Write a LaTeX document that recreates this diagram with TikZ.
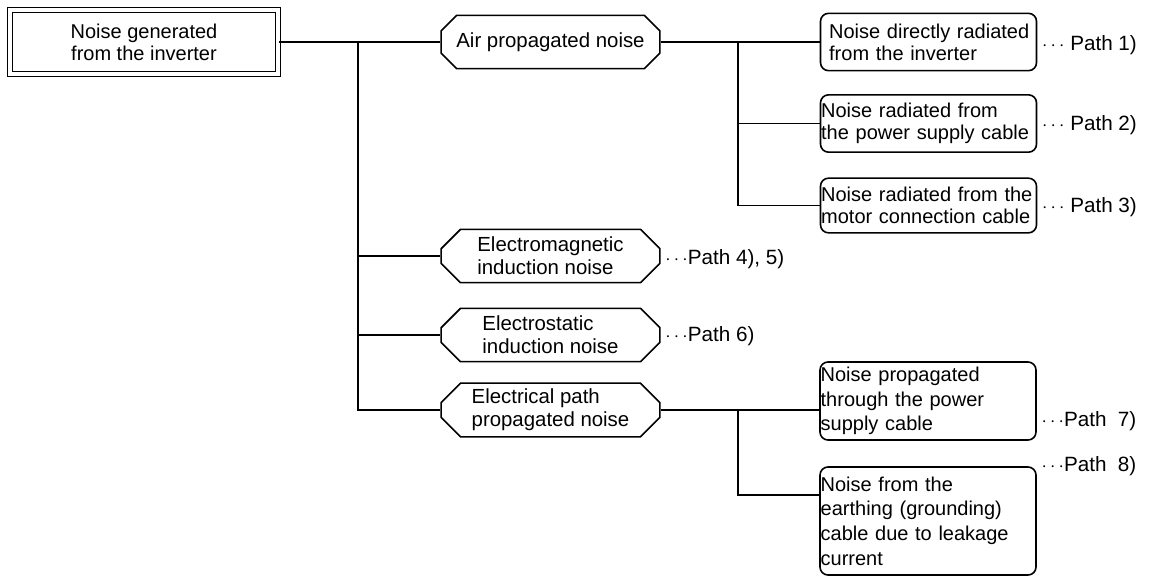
\documentclass[tikz,border=0pt]{standalone}
\usepackage{fontspec}
\setmainfont{Liberation Sans}
\usetikzlibrary{positioning,shapes.misc}

\begin{document}
\begin{tikzpicture}[
    x=0.75pt, y=-0.75pt,
    font=\fontsize{15pt}{16.5pt}\selectfont,
    line width=1.2pt,
    source/.style={draw, double, double distance=2.6pt, line width=1.2pt,
        minimum width=201pt, minimum height=48pt, align=center},
    octa/.style={draw, chamfered rectangle, chamfered rectangle xsep=11pt,
        minimum width=164pt, minimum height=40pt, align=left, inner sep=1pt,
        font=\fontsize{15.3pt}{17pt}\selectfont},
    route/.style={draw, rounded corners=6pt, text width=161pt, align=left,
        inner xsep=0.5pt, inner ysep=1pt},
    tall/.style={route, font=\fontsize{15pt}{18.5pt}\selectfont},
    pathlabel/.style={inner sep=1pt, font=\fontsize{15.5pt}{17pt}\selectfont}
]
    \useasboundingbox (0,0) rectangle (1155,578);

    \node[source] (src) at (144,42) {Noise generated\\from the inverter};

    \node[octa] (air) at (550.5,42) {Air propagated noise};
    \node[octa] (emag) at (550.5,256) {Electromagnetic\\induction noise};
    \node[octa] (estat) at (550.5,335) {Electrostatic\\induction noise};
    \node[octa] (elec) at (550.5,410) {Electrical path\\propagated noise};

    \node[route, minimum height=43pt] (direct) at (928.5,42)
        {\hspace*{6pt}Noise directly radiated\\\hspace*{6pt}from the inverter};
    \node[route, minimum height=43pt] (supply) at (928.5,123.5)
        {Noise radiated from\\the power supply cable};
    \node[route, minimum height=41pt] (motor) at (928.5,205.5)
        {Noise radiated from the\\motor connection cable};
    \node[tall, minimum height=58.5pt] (cond) at (928,401)
        {Noise propagated\\through the power\\supply cable};
    \node[tall, minimum height=81pt] (earth) at (928,521)
        {Noise from the\\earthing (grounding)\\cable due to leakage\\current};

    \node[pathlabel, right=2pt of direct, yshift=-2pt] (p1) {$\cdots$ Path 1)};
    \node[pathlabel, right=2pt of supply, yshift=-1pt] (p2) {$\cdots$ Path 2)};
    \node[pathlabel, right=2pt of motor, yshift=-1pt] (p3) {$\cdots$ Path 3)};
    \node[pathlabel, right=2pt of emag, yshift=-2pt] (p45) {$\cdots$Path 4), 5)};
    \node[pathlabel, right=2pt of estat, yshift=-1pt] (p6) {$\cdots$Path 6)};
    \node[pathlabel, right=2pt of cond, yshift=-15pt] (p7) {$\cdots$Path\ \ 7)};
    \node[pathlabel, right=2pt of earth.north east] (p8) {$\cdots$Path\ \ 8)};

    \coordinate (jl) at (358,42);
    \coordinate (ja) at (738,42);
    \coordinate (jb) at (738,495);

    \draw (src.east) -- (air.west);
    \draw (jl) |- (emag.west);
    \draw (jl) |- (estat.west);
    \draw (jl) |- (elec.west);
    \draw (air.east) -- (direct.west);
    \draw (ja) |- (supply.west);
    \draw (ja) |- (motor.west);
    \draw (elec.east) -- (elec.east -| cond.west);
    \draw (jb |- elec.east) -- (jb) -- (jb -| earth.west);
\end{tikzpicture}
\end{document}
